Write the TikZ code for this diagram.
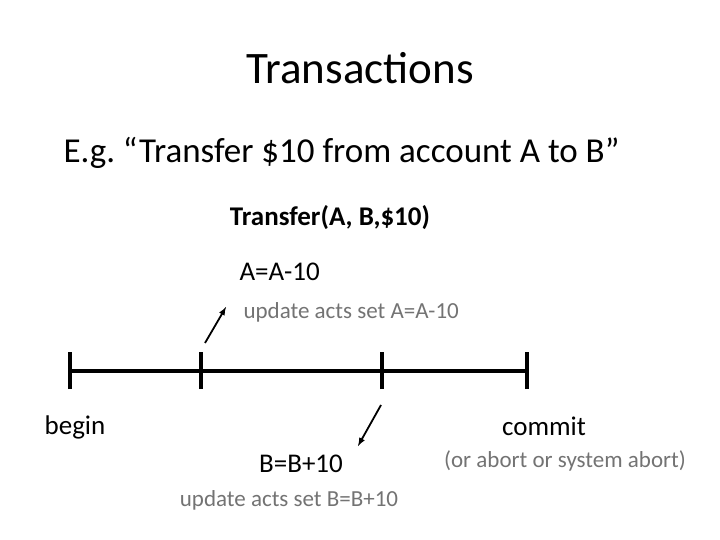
\documentclass[tikz,border=0pt]{standalone}
\usepackage{fontspec}
\setmainfont{Carlito}
\begin{document}
\begin{tikzpicture}[x=1pt,y=-1pt,
  tick/.style={line width=3.6pt},
  axis/.style={line width=3.2pt},
  arr/.style={line width=1.8pt,-latex},
  big/.style={font=\fontsize{27}{32}\selectfont},
  gry/.style={font=\fontsize{23}{28}\selectfont,text=black!55}]
\useasboundingbox (0,0) rectangle (720,540);
\node[font=\fontsize{45}{52}\selectfont] (title) at (360,68) {Transactions};
\node[anchor=west,font=\fontsize{35}{42}\selectfont] (eg) at (60,153) {E.g.\ “Transfer \$10 from account A to B”};
\node[font=\bfseries\fontsize{27}{32}\selectfont] (tr) at (330,218) {Transfer(A, B,\$10)};
\node[big,anchor=west] (aa) at (236,272) {A=A-10};
\node[gry,anchor=west] (ua) at (240,312) {update acts set A=A-10};
\coordinate (t1) at (70,371);
\coordinate (t2) at (201,371);
\coordinate (t3) at (382,371);
\coordinate (t4) at (527,371);
\draw[axis] (t1) -- (t4);
\foreach \p in {t1,t2,t3,t4} \draw[tick] ([yshift=-18pt]\p) -- ([yshift=19pt]\p);
\coordinate (a1s) at (205,343); \coordinate (a1e) at (226,307);
\draw[arr] (a1s) -- (a1e);
\coordinate (a2s) at (381,405); \coordinate (a2e) at (358,446);
\draw[arr] (a2s) -- (a2e);
\node[big] (begin) at (75,427) {begin};
\node[big] (commit) at (544,426) {commit};
\node[big] (bb) at (301,464) {B=B+10};
\node[gry] (ab) at (565,461) {(or abort or system abort)};
\node[gry] (ub) at (289,500) {update acts set B=B+10};
\end{tikzpicture}
\end{document}
